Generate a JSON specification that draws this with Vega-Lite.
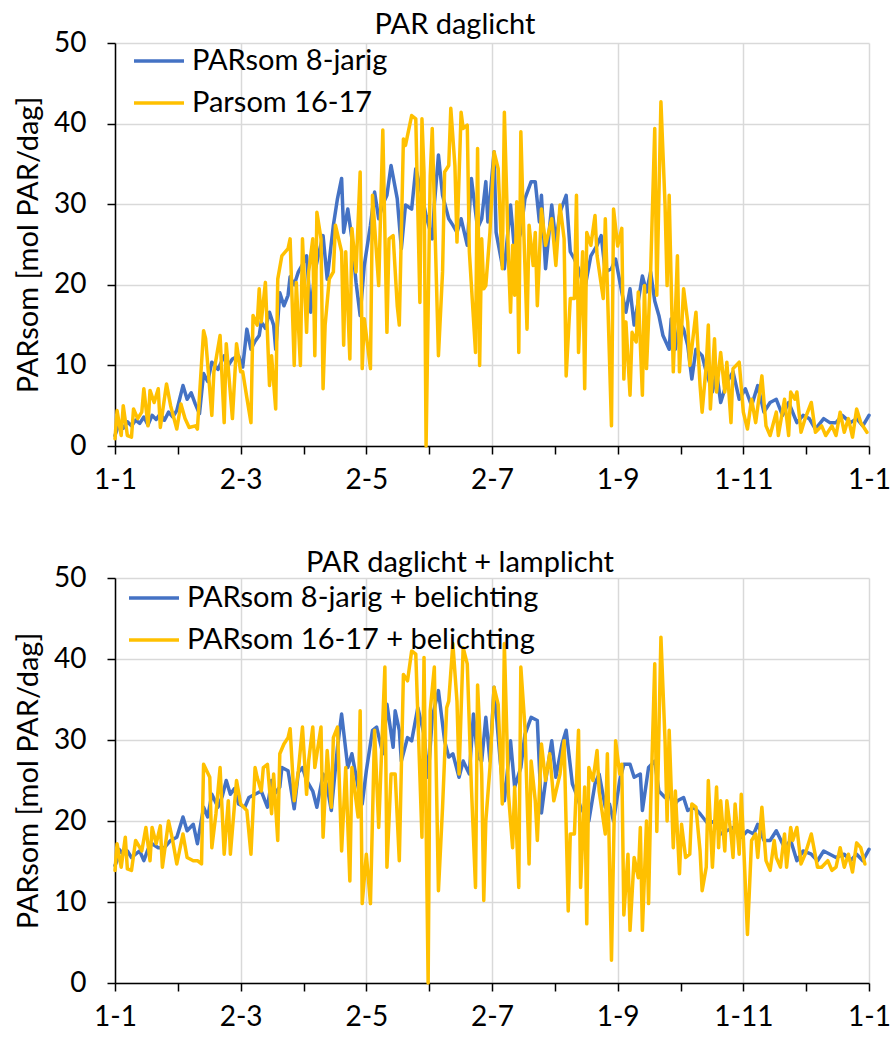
{
"$schema": "https://vega.github.io/schema/vega-lite/v6.json",
"padding": {"left": 14, "top": 11, "right": 0, "bottom": 0},
"background": "white",
"config": {
 "font": "Lato",
 "view": {"stroke": null},
 "axis": {"labelFont": "Lato", "labelFontSize": 28, "labelColor": "black", "titleFont": "Lato", "titleFontSize": 29, "titleFontWeight": "normal", "titleColor": "black", "domainColor": "black", "domainWidth": 1.5, "tickColor": "black", "tickWidth": 1.5, "tickSize": 8, "gridColor": "#d9d9d9", "gridWidth": 1.5},
 "legend": {"labelFont": "Lato", "labelFontSize": 29, "labelColor": "black", "labelLimit": 0},
 "title": {"font": "Lato", "fontSize": 29, "fontWeight": "normal", "color": "black"},
 "line": {"strokeWidth": 3.5, "strokeJoin": "round", "strokeCap": "round"}
},
"datasets": {
"tb": [{"d":0,"v":1.3},{"d":2,"v":2.8},{"d":4,"v":2.2},{"d":6,"v":3.0},{"d":8,"v":2.5},{"d":10,"v":3.2},{"d":12,"v":2.8},{"d":14,"v":3.6},{"d":16,"v":2.6},{"d":18,"v":3.8},{"d":20,"v":3.3},{"d":22,"v":4.0},{"d":24,"v":3.2},{"d":26,"v":4.2},{"d":28,"v":3.6},{"d":30,"v":4.4},{"d":33,"v":7.5},{"d":35,"v":5.8},{"d":37,"v":6.6},{"d":39,"v":5.2},{"d":41,"v":4.0},{"d":43,"v":9.0},{"d":45,"v":8.0},{"d":47,"v":10.4},{"d":50,"v":9.5},{"d":53,"v":11.2},{"d":55,"v":10.0},{"d":57,"v":10.8},{"d":60,"v":11.2},{"d":62,"v":9.8},{"d":64,"v":14.5},{"d":66,"v":12.0},{"d":68,"v":13.0},{"d":70,"v":13.7},{"d":71,"v":15.4},{"d":73,"v":14.6},{"d":75,"v":16.6},{"d":77,"v":15.0},{"d":78,"v":12.0},{"d":80,"v":19.0},{"d":82,"v":17.4},{"d":84,"v":18.7},{"d":85,"v":21.0},{"d":87,"v":20.0},{"d":89,"v":21.6},{"d":91,"v":22.5},{"d":93,"v":23.6},{"d":95,"v":16.6},{"d":97,"v":21.6},{"d":99,"v":24.0},{"d":101,"v":26.1},{"d":103,"v":20.7},{"d":106,"v":27.4},{"d":108,"v":30.7},{"d":110,"v":33.2},{"d":111,"v":26.5},{"d":113,"v":29.4},{"d":115,"v":25.7},{"d":117,"v":20.3},{"d":119,"v":16.2},{"d":121,"v":22.4},{"d":124,"v":27.4},{"d":126,"v":31.5},{"d":128,"v":28.2},{"d":130,"v":30.0},{"d":132,"v":31.1},{"d":134,"v":34.8},{"d":137,"v":30.7},{"d":139,"v":24.5},{"d":141,"v":29.9},{"d":144,"v":29.4},{"d":146,"v":34.4},{"d":149,"v":31.1},{"d":151,"v":28.6},{"d":154,"v":25.7},{"d":155,"v":29.9},{"d":157,"v":36.1},{"d":159,"v":31.1},{"d":162,"v":28.2},{"d":164,"v":27.4},{"d":166,"v":26.5},{"d":168,"v":28.2},{"d":171,"v":24.9},{"d":173,"v":33.2},{"d":176,"v":27.0},{"d":178,"v":28.2},{"d":180,"v":32.8},{"d":181,"v":27.8},{"d":184,"v":36.5},{"d":185,"v":26.5},{"d":188,"v":22.4},{"d":189,"v":22.0},{"d":192,"v":29.9},{"d":194,"v":24.1},{"d":197,"v":26.5},{"d":199,"v":30.7},{"d":202,"v":32.8},{"d":204,"v":32.8},{"d":206,"v":27.8},{"d":207,"v":31.1},{"d":209,"v":22.0},{"d":212,"v":29.9},{"d":214,"v":25.3},{"d":216,"v":29.0},{"d":219,"v":31.1},{"d":221,"v":24.1},{"d":223,"v":23.2},{"d":225,"v":22.0},{"d":228,"v":19.5},{"d":231,"v":23.6},{"d":234,"v":24.9},{"d":236,"v":26.1},{"d":238,"v":21.6},{"d":241,"v":22.0},{"d":243,"v":23.2},{"d":246,"v":19.1},{"d":248,"v":16.6},{"d":250,"v":19.5},{"d":252,"v":15.0},{"d":254,"v":18.0},{"d":256,"v":21.1},{"d":258,"v":19.1},{"d":260,"v":21.6},{"d":262,"v":18.0},{"d":264,"v":16.2},{"d":266,"v":13.7},{"d":269,"v":12.0},{"d":270,"v":15.8},{"d":272,"v":12.0},{"d":274,"v":15.4},{"d":276,"v":14.5},{"d":278,"v":12.5},{"d":280,"v":8.3},{"d":282,"v":12.0},{"d":285,"v":11.2},{"d":287,"v":9.2},{"d":290,"v":6.7},{"d":292,"v":9.2},{"d":294,"v":5.4},{"d":297,"v":7.9},{"d":300,"v":9.2},{"d":303,"v":5.8},{"d":306,"v":7.1},{"d":309,"v":5.0},{"d":312,"v":7.5},{"d":315,"v":4.2},{"d":318,"v":5.4},{"d":321,"v":5.8},{"d":324,"v":3.8},{"d":327,"v":5.4},{"d":331,"v":2.9},{"d":334,"v":3.8},{"d":337,"v":3.4},{"d":340,"v":2.1},{"d":344,"v":3.4},{"d":347,"v":2.9},{"d":350,"v":2.9},{"d":353,"v":3.8},{"d":357,"v":2.9},{"d":360,"v":3.4},{"d":363,"v":2.5},{"d":366,"v":3.8}],
"tg": [{"d":0,"v":0.9},{"d":1,"v":4.4},{"d":3,"v":1.3},{"d":4,"v":5.0},{"d":6,"v":1.3},{"d":8,"v":1.1},{"d":9,"v":4.6},{"d":11,"v":3.4},{"d":13,"v":4.2},{"d":14,"v":7.1},{"d":16,"v":2.5},{"d":17,"v":6.9},{"d":19,"v":5.4},{"d":21,"v":7.1},{"d":22,"v":2.3},{"d":25,"v":7.7},{"d":27,"v":5.0},{"d":30,"v":2.1},{"d":32,"v":5.2},{"d":34,"v":3.4},{"d":36,"v":2.3},{"d":39,"v":2.5},{"d":40,"v":2.1},{"d":43,"v":14.3},{"d":44,"v":13.3},{"d":47,"v":3.8},{"d":48,"v":9.2},{"d":51,"v":13.7},{"d":53,"v":2.9},{"d":54,"v":12.7},{"d":57,"v":3.4},{"d":59,"v":12.7},{"d":61,"v":9.2},{"d":62,"v":9.2},{"d":64,"v":6.0},{"d":66,"v":2.9},{"d":67,"v":16.2},{"d":69,"v":15.0},{"d":70,"v":19.5},{"d":71,"v":15.4},{"d":73,"v":20.3},{"d":75,"v":7.5},{"d":76,"v":11.2},{"d":78,"v":4.6},{"d":79,"v":20.7},{"d":81,"v":23.6},{"d":84,"v":24.5},{"d":85,"v":25.7},{"d":87,"v":10.0},{"d":88,"v":20.3},{"d":90,"v":10.0},{"d":91,"v":25.7},{"d":93,"v":14.1},{"d":94,"v":21.6},{"d":96,"v":25.7},{"d":97,"v":11.2},{"d":98,"v":29.0},{"d":100,"v":25.7},{"d":101,"v":7.1},{"d":102,"v":15.0},{"d":104,"v":20.7},{"d":106,"v":21.6},{"d":107,"v":27.4},{"d":110,"v":24.1},{"d":111,"v":12.5},{"d":112,"v":24.1},{"d":114,"v":10.8},{"d":115,"v":27.0},{"d":117,"v":21.6},{"d":119,"v":34.0},{"d":120,"v":9.6},{"d":121,"v":15.8},{"d":124,"v":9.6},{"d":125,"v":31.1},{"d":128,"v":19.9},{"d":130,"v":39.2},{"d":132,"v":14.1},{"d":133,"v":25.7},{"d":135,"v":26.1},{"d":137,"v":17.4},{"d":138,"v":15.0},{"d":140,"v":38.1},{"d":141,"v":37.3},{"d":144,"v":41.0},{"d":146,"v":40.6},{"d":148,"v":17.8},{"d":149,"v":40.6},{"d":150,"v":34.0},{"d":151,"v":0.0},{"d":153,"v":33.5},{"d":154,"v":39.4},{"d":157,"v":11.2},{"d":159,"v":21.6},{"d":160,"v":34.0},{"d":162,"v":34.8},{"d":163,"v":41.9},{"d":165,"v":34.8},{"d":166,"v":25.3},{"d":168,"v":41.4},{"d":169,"v":39.4},{"d":171,"v":39.8},{"d":172,"v":24.1},{"d":175,"v":11.6},{"d":176,"v":36.9},{"d":177,"v":10.0},{"d":178,"v":25.7},{"d":179,"v":19.5},{"d":180,"v":19.9},{"d":182,"v":26.5},{"d":184,"v":36.5},{"d":186,"v":34.4},{"d":188,"v":22.0},{"d":189,"v":41.4},{"d":191,"v":23.2},{"d":192,"v":16.6},{"d":193,"v":24.9},{"d":194,"v":18.7},{"d":195,"v":30.3},{"d":196,"v":11.6},{"d":197,"v":39.0},{"d":198,"v":29.9},{"d":200,"v":14.5},{"d":201,"v":27.4},{"d":203,"v":22.4},{"d":204,"v":26.5},{"d":205,"v":17.4},{"d":207,"v":29.4},{"d":209,"v":24.9},{"d":212,"v":28.2},{"d":214,"v":22.4},{"d":216,"v":29.9},{"d":218,"v":25.7},{"d":219,"v":8.7},{"d":221,"v":18.3},{"d":223,"v":18.3},{"d":224,"v":31.1},{"d":225,"v":11.6},{"d":227,"v":24.1},{"d":228,"v":7.1},{"d":229,"v":26.5},{"d":231,"v":24.9},{"d":233,"v":28.6},{"d":234,"v":23.6},{"d":237,"v":18.3},{"d":238,"v":28.2},{"d":241,"v":2.5},{"d":242,"v":29.4},{"d":244,"v":24.8},{"d":246,"v":27.0},{"d":247,"v":8.3},{"d":248,"v":15.4},{"d":250,"v":6.3},{"d":251,"v":14.1},{"d":253,"v":12.9},{"d":254,"v":19.1},{"d":256,"v":6.3},{"d":257,"v":19.9},{"d":258,"v":9.6},{"d":260,"v":21.6},{"d":262,"v":39.4},{"d":263,"v":18.7},{"d":265,"v":42.7},{"d":267,"v":29.9},{"d":268,"v":19.9},{"d":269,"v":31.1},{"d":270,"v":19.9},{"d":271,"v":9.2},{"d":273,"v":23.6},{"d":274,"v":9.2},{"d":276,"v":19.5},{"d":278,"v":15.4},{"d":279,"v":10.0},{"d":282,"v":16.6},{"d":284,"v":7.5},{"d":285,"v":4.2},{"d":287,"v":10.0},{"d":288,"v":15.0},{"d":289,"v":4.6},{"d":291,"v":13.3},{"d":292,"v":6.7},{"d":294,"v":11.6},{"d":296,"v":6.7},{"d":297,"v":10.4},{"d":299,"v":2.9},{"d":300,"v":9.6},{"d":303,"v":10.4},{"d":305,"v":4.2},{"d":307,"v":2.1},{"d":309,"v":5.8},{"d":311,"v":2.9},{"d":314,"v":8.7},{"d":316,"v":2.5},{"d":318,"v":1.3},{"d":321,"v":4.2},{"d":322,"v":1.3},{"d":325,"v":5.8},{"d":327,"v":1.3},{"d":328,"v":6.7},{"d":330,"v":5.8},{"d":331,"v":6.7},{"d":333,"v":1.7},{"d":335,"v":3.4},{"d":338,"v":5.4},{"d":340,"v":1.7},{"d":343,"v":2.5},{"d":345,"v":1.3},{"d":348,"v":2.5},{"d":350,"v":1.3},{"d":352,"v":4.2},{"d":354,"v":1.7},{"d":356,"v":3.4},{"d":358,"v":1.1},{"d":360,"v":4.6},{"d":362,"v":2.9},{"d":365,"v":1.7}],
"bb": [{"d":0,"v":14.5},{"d":1,"v":15.1},{"d":2,"v":16.5},{"d":4,"v":15.9},{"d":6,"v":16.3},{"d":8,"v":15.5},{"d":10,"v":15.9},{"d":12,"v":16.3},{"d":14,"v":15.1},{"d":16,"v":16.5},{"d":18,"v":17.2},{"d":21,"v":16.7},{"d":24,"v":16.7},{"d":27,"v":17.6},{"d":30,"v":18.0},{"d":33,"v":20.5},{"d":35,"v":18.8},{"d":38,"v":19.6},{"d":40,"v":17.2},{"d":43,"v":21.7},{"d":45,"v":20.5},{"d":47,"v":23.3},{"d":50,"v":21.7},{"d":52,"v":23.0},{"d":54,"v":25.0},{"d":56,"v":23.3},{"d":58,"v":24.0},{"d":60,"v":22.1},{"d":63,"v":21.7},{"d":65,"v":22.9},{"d":68,"v":23.3},{"d":71,"v":23.7},{"d":74,"v":21.7},{"d":76,"v":25.0},{"d":78,"v":23.5},{"d":80,"v":24.2},{"d":81,"v":26.6},{"d":84,"v":26.2},{"d":87,"v":21.5},{"d":89,"v":26.0},{"d":91,"v":26.6},{"d":93,"v":25.0},{"d":96,"v":23.7},{"d":98,"v":21.7},{"d":101,"v":25.8},{"d":103,"v":24.2},{"d":105,"v":21.3},{"d":108,"v":29.1},{"d":110,"v":33.2},{"d":113,"v":26.6},{"d":115,"v":28.3},{"d":118,"v":24.2},{"d":120,"v":22.1},{"d":122,"v":26.2},{"d":125,"v":31.2},{"d":127,"v":31.6},{"d":130,"v":28.3},{"d":132,"v":34.4},{"d":135,"v":29.1},{"d":136,"v":33.6},{"d":138,"v":31.2},{"d":139,"v":27.4},{"d":142,"v":30.3},{"d":144,"v":29.9},{"d":147,"v":34.0},{"d":150,"v":30.7},{"d":152,"v":25.4},{"d":154,"v":32.8},{"d":157,"v":36.1},{"d":160,"v":29.9},{"d":162,"v":27.9},{"d":164,"v":28.3},{"d":167,"v":25.4},{"d":169,"v":27.4},{"d":172,"v":25.8},{"d":174,"v":33.2},{"d":176,"v":27.9},{"d":178,"v":27.4},{"d":180,"v":32.8},{"d":182,"v":27.4},{"d":184,"v":36.5},{"d":187,"v":27.4},{"d":189,"v":22.5},{"d":192,"v":29.9},{"d":194,"v":24.2},{"d":197,"v":26.6},{"d":199,"v":30.7},{"d":202,"v":32.8},{"d":205,"v":32.4},{"d":207,"v":21.0},{"d":209,"v":24.9},{"d":212,"v":29.9},{"d":214,"v":25.4},{"d":217,"v":29.5},{"d":219,"v":31.2},{"d":222,"v":24.6},{"d":224,"v":23.3},{"d":226,"v":21.7},{"d":230,"v":20.0},{"d":233,"v":24.6},{"d":235,"v":25.8},{"d":238,"v":21.7},{"d":240,"v":22.1},{"d":242,"v":20.0},{"d":245,"v":25.0},{"d":247,"v":27.0},{"d":250,"v":27.0},{"d":252,"v":25.4},{"d":255,"v":25.8},{"d":256,"v":21.3},{"d":259,"v":26.6},{"d":262,"v":27.4},{"d":264,"v":23.7},{"d":267,"v":22.9},{"d":269,"v":23.7},{"d":271,"v":21.7},{"d":273,"v":22.5},{"d":276,"v":22.9},{"d":278,"v":21.3},{"d":281,"v":21.7},{"d":284,"v":20.9},{"d":288,"v":19.6},{"d":291,"v":20.0},{"d":294,"v":18.4},{"d":297,"v":18.8},{"d":300,"v":19.2},{"d":304,"v":18.0},{"d":307,"v":18.8},{"d":310,"v":18.4},{"d":312,"v":19.6},{"d":315,"v":17.6},{"d":318,"v":17.6},{"d":321,"v":18.8},{"d":325,"v":16.7},{"d":328,"v":17.6},{"d":331,"v":15.1},{"d":334,"v":16.3},{"d":338,"v":15.9},{"d":341,"v":15.1},{"d":344,"v":16.3},{"d":347,"v":15.9},{"d":350,"v":15.5},{"d":354,"v":15.9},{"d":357,"v":15.1},{"d":360,"v":15.9},{"d":363,"v":15.1},{"d":366,"v":16.5}],
"bg": [{"d":0,"v":13.9},{"d":1,"v":17.2},{"d":3,"v":14.3},{"d":5,"v":18.0},{"d":6,"v":14.1},{"d":8,"v":13.9},{"d":10,"v":17.6},{"d":13,"v":16.3},{"d":15,"v":19.2},{"d":17,"v":15.1},{"d":18,"v":19.2},{"d":20,"v":17.2},{"d":22,"v":19.4},{"d":23,"v":14.3},{"d":26,"v":20.0},{"d":28,"v":17.6},{"d":30,"v":14.7},{"d":33,"v":18.4},{"d":35,"v":15.5},{"d":38,"v":15.1},{"d":40,"v":15.1},{"d":42,"v":14.7},{"d":43,"v":27.0},{"d":46,"v":25.4},{"d":47,"v":16.7},{"d":49,"v":20.9},{"d":51,"v":26.6},{"d":53,"v":15.9},{"d":55,"v":22.5},{"d":56,"v":15.9},{"d":59,"v":25.0},{"d":61,"v":22.1},{"d":64,"v":21.3},{"d":66,"v":15.9},{"d":68,"v":26.6},{"d":69,"v":25.4},{"d":71,"v":23.7},{"d":72,"v":26.6},{"d":74,"v":27.0},{"d":76,"v":20.9},{"d":77,"v":25.8},{"d":79,"v":17.6},{"d":80,"v":28.3},{"d":82,"v":29.5},{"d":84,"v":30.3},{"d":85,"v":31.4},{"d":87,"v":22.5},{"d":89,"v":26.2},{"d":91,"v":31.6},{"d":93,"v":23.3},{"d":94,"v":27.4},{"d":96,"v":31.6},{"d":97,"v":26.6},{"d":100,"v":31.6},{"d":101,"v":18.0},{"d":103,"v":28.7},{"d":105,"v":21.7},{"d":106,"v":30.3},{"d":108,"v":31.6},{"d":110,"v":16.3},{"d":112,"v":26.6},{"d":114,"v":12.6},{"d":115,"v":26.6},{"d":118,"v":20.5},{"d":119,"v":33.6},{"d":120,"v":9.8},{"d":122,"v":15.9},{"d":124,"v":9.8},{"d":126,"v":31.2},{"d":128,"v":19.2},{"d":131,"v":39.0},{"d":132,"v":14.3},{"d":134,"v":25.8},{"d":136,"v":25.8},{"d":138,"v":15.1},{"d":140,"v":38.1},{"d":142,"v":37.3},{"d":144,"v":41.0},{"d":146,"v":40.6},{"d":149,"v":18.0},{"d":150,"v":40.2},{"d":152,"v":0.0},{"d":153,"v":33.6},{"d":155,"v":39.0},{"d":157,"v":11.4},{"d":159,"v":21.7},{"d":161,"v":34.0},{"d":162,"v":34.8},{"d":164,"v":41.9},{"d":166,"v":34.8},{"d":167,"v":25.8},{"d":169,"v":41.4},{"d":171,"v":39.4},{"d":173,"v":24.2},{"d":175,"v":11.8},{"d":176,"v":36.8},{"d":178,"v":25.8},{"d":179,"v":10.2},{"d":180,"v":20.0},{"d":182,"v":26.6},{"d":184,"v":36.5},{"d":186,"v":34.4},{"d":188,"v":22.1},{"d":189,"v":41.9},{"d":191,"v":23.3},{"d":193,"v":16.7},{"d":194,"v":24.2},{"d":196,"v":11.8},{"d":197,"v":39.0},{"d":199,"v":31.6},{"d":201,"v":14.7},{"d":202,"v":27.4},{"d":204,"v":22.5},{"d":205,"v":17.6},{"d":207,"v":29.5},{"d":209,"v":25.0},{"d":211,"v":28.3},{"d":213,"v":22.5},{"d":216,"v":25.8},{"d":218,"v":29.9},{"d":220,"v":8.9},{"d":221,"v":18.4},{"d":223,"v":18.4},{"d":225,"v":31.2},{"d":226,"v":11.8},{"d":228,"v":24.2},{"d":229,"v":7.3},{"d":230,"v":26.6},{"d":232,"v":25.0},{"d":234,"v":28.7},{"d":235,"v":23.7},{"d":238,"v":18.4},{"d":239,"v":28.3},{"d":241,"v":2.8},{"d":243,"v":29.9},{"d":245,"v":25.8},{"d":246,"v":27.0},{"d":247,"v":8.4},{"d":249,"v":15.9},{"d":250,"v":6.5},{"d":252,"v":15.5},{"d":254,"v":13.0},{"d":255,"v":19.2},{"d":256,"v":6.5},{"d":258,"v":20.0},{"d":259,"v":9.8},{"d":260,"v":21.7},{"d":262,"v":39.4},{"d":263,"v":18.7},{"d":265,"v":42.7},{"d":267,"v":29.9},{"d":268,"v":20.0},{"d":269,"v":31.2},{"d":271,"v":16.7},{"d":272,"v":23.7},{"d":274,"v":13.5},{"d":275,"v":19.6},{"d":277,"v":15.5},{"d":279,"v":15.9},{"d":280,"v":22.1},{"d":282,"v":21.7},{"d":284,"v":16.3},{"d":285,"v":11.4},{"d":287,"v":14.3},{"d":288,"v":25.0},{"d":290,"v":14.3},{"d":292,"v":24.2},{"d":293,"v":16.7},{"d":294,"v":22.5},{"d":296,"v":16.3},{"d":297,"v":22.5},{"d":299,"v":18.4},{"d":300,"v":15.5},{"d":301,"v":22.1},{"d":303,"v":15.9},{"d":304,"v":23.3},{"d":305,"v":18.0},{"d":307,"v":6.0},{"d":309,"v":17.6},{"d":311,"v":18.4},{"d":312,"v":15.5},{"d":314,"v":21.7},{"d":316,"v":15.1},{"d":318,"v":13.9},{"d":320,"v":17.6},{"d":321,"v":15.5},{"d":323,"v":14.3},{"d":325,"v":18.4},{"d":326,"v":14.3},{"d":328,"v":19.2},{"d":329,"v":17.6},{"d":331,"v":19.2},{"d":333,"v":14.7},{"d":335,"v":15.9},{"d":338,"v":18.4},{"d":341,"v":14.3},{"d":343,"v":14.3},{"d":346,"v":15.1},{"d":348,"v":13.9},{"d":350,"v":14.3},{"d":352,"v":16.7},{"d":354,"v":14.3},{"d":356,"v":15.9},{"d":358,"v":13.7},{"d":360,"v":17.3},{"d":362,"v":16.7},{"d":364,"v":14.7}]
},
"spacing": 55,
"resolve": {"scale": {"color": "independent"}, "legend": {"color": "independent"}},
"vconcat": [
{
 "width": 754, "height": 403,
 "title": {"text": "PAR daglicht", "dx": -37, "offset": -11},
 "encoding": {
  "x": {"field": "d", "type": "quantitative", "scale": {"domain": [0, 366], "nice": false, "zero": false},
   "axis": {"title": null, "values": [0, 30.5, 61, 91.5, 122, 152.5, 183, 213.5, 244, 274.5, 305, 335.5, 366], "labelExpr": "datum.value == 0 ? '1-1' : datum.value == 61 ? '2-3' : datum.value == 122 ? '2-5' : datum.value == 183 ? '2-7' : datum.value == 244 ? '1-9' : datum.value == 305 ? '1-11' : datum.value == 366 ? '1-1' : ''", "labelFlush": false, "labelBound": false, "labelOverlap": false, "labelPadding": 12, "gridOpacity": {"condition": {"test": "datum.value % 61 === 0", "value": 1}, "value": 0}}},
  "y": {"field": "v", "type": "quantitative", "scale": {"domain": [0, 50], "nice": false},
   "axis": {"title": "PARsom [mol PAR/dag]", "values": [0, 10, 20, 30, 40, 50], "labelPadding": 21, "titlePadding": 10}}
 },
 "layer": [
  {"data": {"name": "tb"}, "mark": {"type": "line"},
   "encoding": {"color": {"datum": "PARsom 8-jarig", "type": "nominal",
    "scale": {"domain": ["PARsom 8-jarig", "Parsom 16-17"], "range": ["#4472C4", "#FFC000"]},
    "legend": {"title": null, "orient": "none", "legendX": 17, "legendY": -9, "direction": "vertical", "symbolType": "stroke", "symbolSize": 2500, "symbolStrokeWidth": 4, "labelOffset": 6, "rowPadding": -10, "padding": 0}}}},
  {"data": {"name": "tg"}, "mark": {"type": "line"},
   "encoding": {"color": {"datum": "Parsom 16-17", "type": "nominal"}}}
 ]
},
{
 "width": 754, "height": 405,
 "title": {"text": "PAR daglicht + lamplicht", "dx": -32, "offset": -14},
 "encoding": {
  "x": {"field": "d", "type": "quantitative", "scale": {"domain": [0, 366], "nice": false, "zero": false},
   "axis": {"title": null, "values": [0, 30.5, 61, 91.5, 122, 152.5, 183, 213.5, 244, 274.5, 305, 335.5, 366], "labelExpr": "datum.value == 0 ? '1-1' : datum.value == 61 ? '2-3' : datum.value == 122 ? '2-5' : datum.value == 183 ? '2-7' : datum.value == 244 ? '1-9' : datum.value == 305 ? '1-11' : datum.value == 366 ? '1-1' : ''", "labelFlush": false, "labelBound": false, "labelOverlap": false, "labelPadding": 12, "gridOpacity": {"condition": {"test": "datum.value % 61 === 0", "value": 1}, "value": 0}}},
  "y": {"field": "v", "type": "quantitative", "scale": {"domain": [0, 50], "nice": false},
   "axis": {"title": "PARsom [mol PAR/dag]", "values": [0, 10, 20, 30, 40, 50], "labelPadding": 21, "titlePadding": 10}}
 },
 "layer": [
  {"data": {"name": "bb"}, "mark": {"type": "line"},
   "encoding": {"color": {"datum": "PARsom 8-jarig + belichting", "type": "nominal",
    "scale": {"domain": ["PARsom 8-jarig + belichting", "PARsom 16-17 + belichting"], "range": ["#4472C4", "#FFC000"]},
    "legend": {"title": null, "orient": "none", "legendX": 12, "legendY": -7, "direction": "vertical", "symbolType": "stroke", "symbolSize": 2500, "symbolStrokeWidth": 4, "labelOffset": 6, "rowPadding": -9, "padding": 0}}}},
  {"data": {"name": "bg"}, "mark": {"type": "line"},
   "encoding": {"color": {"datum": "PARsom 16-17 + belichting", "type": "nominal"}}}
 ]
}
]
}
